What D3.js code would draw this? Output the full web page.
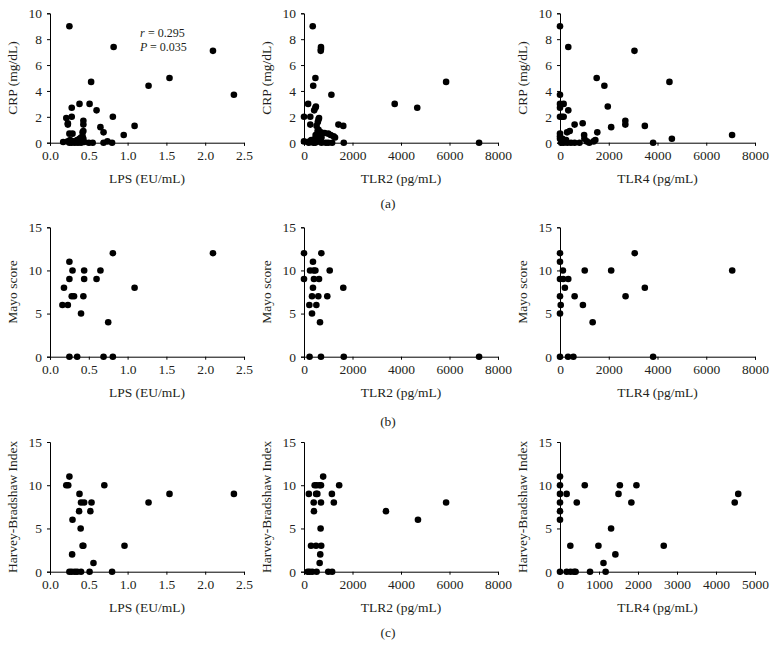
<!DOCTYPE html>
<html>
<head>
<meta charset="utf-8">
<script src="https://cdn.jsdelivr.net/npm/d3@7"></script>
<style>
  html, body { margin: 0; padding: 0; background: #fff; }
  svg { display: block; font-family: "Liberation Serif", "Times New Roman", serif; }
</style>
</head>
<body>
<svg id="chart" width="776" height="647"></svg>
<script>
// ---------- Data ----------
// Row (a): CRP (mg/dL)
const lpsCrp = [
  [0.25,9.0],[0.82,7.4],[2.10,7.1],[1.54,5.0],[0.53,4.7],[1.27,4.4],[2.37,3.7],
  [0.38,3.0],[0.51,3.0],[0.28,2.7],[0.60,2.5],[0.28,2.0],[0.81,2.0],[0.21,1.9],
  [0.23,1.5],[0.23,1.4],[0.43,1.7],[0.43,1.4],[1.09,1.3],[0.65,1.2],[0.43,0.9],
  [0.42,0.8],[0.69,0.8],[0.25,0.7],[0.29,0.7],[0.95,0.6],[0.42,0.5],[0.40,0.4],
  [0.38,0.3],[0.43,0.3],[0.35,0.2],[0.26,0.2],[0.30,0.1],[0.17,0.05],[0.25,0.0],
  [0.28,0.0],[0.32,0.0],[0.36,0.0],[0.40,0.0],[0.44,0.05],[0.50,0.0],[0.55,0.0],
  [0.69,0.0],[0.74,0.1],[0.80,0.0],[0.23,0.1],[0.41,0.1]
];
const tlr2Crp = [
  [360,9.0],[700,7.4],[700,7.25],[690,7.1],[470,5.0],[380,4.4],[1130,3.7],
  [3740,3.0],[4670,2.7],[5860,4.7],[7220,0.0],[170,3.0],[490,2.8],[470,2.7],
  [420,2.5],[0,2.0],[260,2.0],[620,1.9],[600,1.8],[570,1.6],[260,1.4],[520,1.3],
  [1420,1.4],[1620,1.3],[600,1.0],[560,0.9],[700,0.8],[850,0.75],[1000,0.7],
  [1100,0.6],[1220,0.5],[1280,0.4],[480,0.6],[500,0.5],[460,0.3],[550,0.35],
  [640,0.3],[720,0.4],[0,0.1],[150,0.05],[250,0.1],[300,0.2],[350,0.1],[420,0.2],
  [520,0.1],[620,0.1],[720,0.0],[900,0.0],[1000,0.0],[1160,0.0],[1640,0.0],
  [200,0.0],[390,0.0],[460,0.0]
];
const tlr4Crp = [
  [0,9.0],[340,7.4],[3055,7.1],[1505,5.0],[1820,4.4],[4490,4.7],[0,3.7],[0,3.0],
  [0,2.7],[150,3.0],[340,2.5],[1960,2.8],[0,2.0],[80,2.0],[150,2.0],[2680,1.7],
  [2680,1.4],[3480,1.3],[2100,1.2],[930,1.5],[600,1.4],[1530,0.8],[290,0.8],
  [400,0.9],[0,0.7],[0,0.5],[0,0.3],[990,0.6],[1000,0.3],[1380,0.1],[1450,0.2],
  [1200,0.0],[1100,0.1],[7060,0.6],[4590,0.3],[3820,0.0],[100,0.3],[120,0.1],
  [200,0.1],[50,0.0],[150,0.0],[300,0.0],[450,0.0],[600,0.0],[800,0.0],[250,0.2]
];
// Row (b): Mayo score
const lpsMayo = [
  [0.81,12],[2.10,12],[0.25,11],[0.29,10],[0.44,10],[0.65,10],[0.25,9],[0.44,9],
  [0.60,9],[0.18,8],[1.09,8],[0.28,7],[0.31,7],[0.43,7],[0.16,6],[0.23,6],
  [0.40,5],[0.75,4],[0.25,0],[0.35,0],[0.69,0],[0.81,0]
];
const tlr2Mayo = [
  [0,12],[715,12],[370,11],[250,10],[400,10],[470,10],[1060,10],[0,9],[410,9],
  [620,9],[370,8],[1620,8],[330,7],[590,7],[960,7],[220,6],[510,6],[330,5],
  [660,4],[230,0],[700,0],[1640,0],[7220,0]
];
const tlr4Mayo = [
  [0,12],[0,11],[0,9],[0,7],[0,5],[30,6],[120,10],[130,9],[340,9],[200,8],
  [600,7],[940,6],[1015,10],[1340,4],[2100,10],[2690,7],[3065,12],[3480,8],
  [7065,10],[0,0],[330,0],[550,0],[3820,0]
];
// Row (c): Harvey-Bradshaw Index
const lpsHbi = [
  [0.21,10],[0.235,10],[0.25,11],[0.70,10],[0.38,9],[1.54,9],[2.37,9],[0.40,8],
  [0.44,8],[0.535,8],[1.27,8],[0.375,7],[0.52,7],[0.29,6],[0.395,5],[0.42,3],
  [0.43,3],[0.96,3],[0.285,2],[0.56,1],[0.25,0],[0.28,0],[0.32,0],[0.35,0],
  [0.40,0],[0.51,0],[0.80,0]
];
const tlr2Hbi = [
  [200,9],[440,10],[520,10],[640,10],[700,10],[790,11],[500,9],[550,9],[400,8],
  [700,8],[1150,9],[1230,8],[1450,10],[410,7],[3380,7],[4700,6],[5860,8],
  [685,5],[290,3],[495,3],[710,3],[670,2],[645,1],[150,0],[230,0],[340,0],
  [520,0],[1000,0],[1160,0]
];
const tlr4Hbi = [
  [0,11],[0,10],[0,9],[0,8],[0,7],[0,6],[0,0],[170,9],[635,10],[430,8],[265,3],
  [1500,9],[1535,10],[1960,10],[1830,8],[1310,5],[985,3],[2660,3],[1115,1],
  [1420,2],[4480,8],[4570,9],[170,0],[270,0],[360,0],[400,0],[770,0],[1170,0]
];

const lpsTicks = [0.0, 0.5, 1.0, 1.5, 2.0, 2.5];
const tlr8kTicks = [0, 2000, 4000, 6000, 8000];
const tlr5kTicks = [0, 1000, 2000, 3000, 4000, 5000];
const crpTicks = [0, 2, 4, 6, 8, 10];
const scoreTicks = [0, 5, 10, 15];

const panelLabels = ["(a)", "(b)", "(c)"];

// ---------- Layout ----------
const svg = d3.select("#chart");
const cols = [[50, 244], [304, 498], [560, 755]];
const rows = [[13.3, 142.7], [227.3, 356.7], [442, 571.7]];
const ink = "#231f20";

const panels = [
  {r:0,c:0,data:lpsCrp, xDom:[0,2.5], xTicks:lpsTicks, xFmt:d3.format(".1f"), xLab:"LPS (EU/mL)", yDom:[0,10], yTicks:crpTicks, yLab:"CRP (mg/dL)"},
  {r:0,c:1,data:tlr2Crp, xDom:[0,8000], xTicks:tlr8kTicks, xFmt:d3.format("d"), xLab:"TLR2 (pg/mL)", yDom:[0,10], yTicks:crpTicks, yLab:"CRP (mg/dL)"},
  {r:0,c:2,data:tlr4Crp, xDom:[0,8000], xTicks:tlr8kTicks, xFmt:d3.format("d"), xLab:"TLR4 (pg/mL)", yDom:[0,10], yTicks:crpTicks, yLab:"CRP (mg/dL)"},
  {r:1,c:0,data:lpsMayo, xDom:[0,2.5], xTicks:lpsTicks, xFmt:d3.format(".1f"), xLab:"LPS (EU/mL)", yDom:[0,15], yTicks:scoreTicks, yLab:"Mayo score"},
  {r:1,c:1,data:tlr2Mayo, xDom:[0,8000], xTicks:tlr8kTicks, xFmt:d3.format("d"), xLab:"TLR2 (pg/mL)", yDom:[0,15], yTicks:scoreTicks, yLab:"Mayo score"},
  {r:1,c:2,data:tlr4Mayo, xDom:[0,8000], xTicks:tlr8kTicks, xFmt:d3.format("d"), xLab:"TLR4 (pg/mL)", yDom:[0,15], yTicks:scoreTicks, yLab:"Mayo score"},
  {r:2,c:0,data:lpsHbi, xDom:[0,2.5], xTicks:lpsTicks, xFmt:d3.format(".1f"), xLab:"LPS (EU/mL)", yDom:[0,15], yTicks:scoreTicks, yLab:"Harvey-Bradshaw Index"},
  {r:2,c:1,data:tlr2Hbi, xDom:[0,8000], xTicks:tlr8kTicks, xFmt:d3.format("d"), xLab:"TLR2 (pg/mL)", yDom:[0,15], yTicks:scoreTicks, yLab:"Harvey-Bradshaw Index"},
  {r:2,c:2,data:tlr4Hbi, xDom:[0,5000], xTicks:tlr5kTicks, xFmt:d3.format("d"), xLab:"TLR4 (pg/mL)", yDom:[0,15], yTicks:scoreTicks, yLab:"Harvey-Bradshaw Index"}
];

panels.forEach(p => {
  const [x0, x1] = cols[p.c];
  const [y0, y1] = rows[p.r];
  const x = d3.scaleLinear().domain(p.xDom).range([x0, x1]);
  const y = d3.scaleLinear().domain(p.yDom).range([y1, y0]);
  const g = svg.append("g");

  const xAxis = g.append("g").attr("transform", `translate(0,${y1})`)
    .call(d3.axisBottom(x).tickValues(p.xTicks).tickFormat(p.xFmt).tickSize(3).tickPadding(5));
  const yAxis = g.append("g").attr("transform", `translate(${x0},0)`)
    .call(d3.axisLeft(y).tickValues(p.yTicks).tickSize(3).tickPadding(5));
  [xAxis, yAxis].forEach(a => {
    a.selectAll("path, line").attr("stroke", "#000").attr("stroke-width", 1);
    a.selectAll("text").attr("fill", ink).style("font-size", "13.5px")
      .style("font-family", '"Liberation Serif", serif');
  });

  g.selectAll("circle.pt").data(p.data).enter().append("circle")
    .attr("class", "pt")
    .attr("cx", d => x(d[0])).attr("cy", d => y(d[1])).attr("r", 3.3)
    .attr("fill", "#000");

  g.append("text").attr("x", (x0 + x1) / 2).attr("y", y1 + 40)
    .attr("text-anchor", "middle").style("font-size", "13.5px").attr("fill", ink)
    .text(p.xLab);
  g.append("text")
    .attr("transform", `translate(${x0 - 33},${(y0 + y1) / 2}) rotate(-90)`)
    .attr("text-anchor", "middle").style("font-size", "13.5px").attr("fill", ink)
    .text(p.yLab);
});

// Correlation annotation (panel a, LPS vs CRP)
const ann = svg.append("g").style("font-size", "12px").attr("fill", ink);
ann.append("text").attr("x", 140).attr("y", 37).style("font-style", "italic").text("r");
ann.append("text").attr("x", 148).attr("y", 37).text("= 0.295");
ann.append("text").attr("x", 140).attr("y", 51).style("font-style", "italic").text("P");
ann.append("text").attr("x", 150).attr("y", 51).text("= 0.035");

// Panel labels
const labelY = [208, 426, 637];
panelLabels.forEach((t, i) => {
  svg.append("text").attr("x", 388).attr("y", labelY[i]).attr("text-anchor", "middle")
    .style("font-size", "13.5px").attr("fill", ink).text(t);
});
</script>
</body>
</html>
